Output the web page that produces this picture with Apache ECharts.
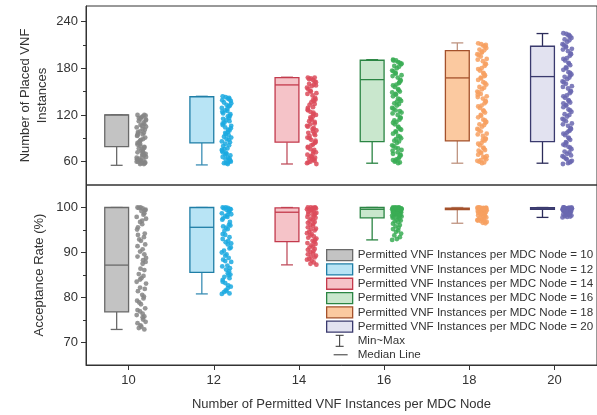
<!doctype html>
<html lang="en">
<head>
  <meta charset="utf-8">
  <title>VNF placement</title>
  <script src="https://cdn.jsdelivr.net/npm/echarts@6/dist/echarts.min.js"></script>
  <style>
    html, body { margin: 0; padding: 0; background: #fff; }
    #chart { width: 597px; height: 415px; }
  </style>
</head>
<body>
  <div id="chart"></div>
  <script type="text/javascript">
    // permitted VNF instances per MDC node
    const cats = [10, 12, 14, 16, 18, 20];
    const names = cats.map((c) => `Permitted VNF Instances per MDC Node = ${c}`);

    // box stats: [min, q1, median, q3, max]
    const placedStats = [
      [55.3, 79.3, 120, 120, 120],
      [55.8, 84, 143.5, 143.5, 144],
      [57, 85, 158.6, 168, 168.5],
      [58, 85.8, 165.4, 190.3, 191],
      [58, 86.6, 167.6, 202.7, 212.6],
      [58, 85.8, 169.3, 208.3, 224.6]
    ];
    const rateStats = [
      [72.9, 76.8, 87.2, 100, 100],
      [80.8, 85.6, 95.6, 100, 100],
      [87.25, 92.4, 98.95, 99.9, 100],
      [92.8, 97.7, 99.6, 100, 100],
      [96.5, 99.55, 99.75, 99.85, 100],
      [97.8, 99.6, 99.85, 99.95, 100]
    ];

    // raw runs, number of placed VNF instances
    const placed10 = [120,118,115,119,112,108,117,104,110,99,114,96,106,101,93,97,88,91,85,95,82,79,87,76,84,73,80,70,77,68,74,65,71,62,66,60,69,58,63,57,61,59,64,67,72,78,83,89,94,102,107,113,116,120,58,60,62,57,105,98];
    const placed12 = [144,141,143,138,136,140,133,129,131,126,135,122,128,119,124,116,113,121,110,118,107,112,104,101,109,98,95,103,92,100,89,86,94,83,91,80,77,85,74,81,71,68,76,65,72,62,69,59,66,57,63,60,58,64,70,75,88,97,106,115,125,132,139,142,58,61];
    const placed14 = [168,165,167,162,160,163,157,155,159,151,148,153,145,142,147,138,136,140,133,130,127,134,124,121,126,118,115,120,112,109,114,106,103,108,100,97,102,94,91,96,88,85,90,82,79,84,76,73,78,70,67,72,64,61,66,58,63,60,57,59,62,65,69,75,81,87,93,99,105,111,117,123,129,139,150,158,166,168];
    const placed16 = [191,188,190,185,183,187,180,177,182,174,171,176,168,165,170,162,159,164,156,153,158,150,147,152,144,141,146,138,135,140,132,129,134,126,123,128,120,117,122,114,111,116,108,105,110,102,99,104,96,93,98,90,87,92,84,81,86,78,75,80,72,69,74,66,63,68,60,58,62,59,61,64,70,77,89,101,113,125,137,149,161,173,186,190];
    const placed18 = [212,209,211,206,204,208,201,198,203,195,192,197,189,186,191,183,180,185,177,174,179,171,168,173,165,162,167,159,156,161,153,150,155,147,144,149,141,138,143,135,132,137,129,126,131,123,120,125,117,114,119,111,108,113,105,102,107,99,96,101,93,90,95,87,84,89,81,78,83,75,72,77,69,66,71,63,60,65,58,61,59,62,67,74,88,110,146,170,200,210];
    const placed20 = [225,222,224,219,217,221,214,211,216,208,205,210,202,199,204,196,193,198,190,187,192,184,181,186,178,175,180,172,169,174,166,163,168,160,157,162,154,151,156,148,145,150,142,139,144,136,133,138,130,127,132,124,121,126,118,115,120,112,109,114,106,103,108,100,97,102,94,91,96,88,85,90,82,79,84,76,73,78,70,67,72,64,61,66,58,60,57,59,63,68,81,99,135,171,207,223];

    // raw runs, acceptance rate (%)
    const rate10 = [100,99.8,100,99.5,99.9,98.7,99.2,97.9,98.4,96.8,97.5,95.6,96.3,94.2,95.1,93.4,92.6,91.8,92.9,90.7,91.4,89.6,90.2,88.3,89.1,87.5,86.4,87.9,85.2,86.1,84.3,83.5,84.8,82.2,83.1,81.4,80.6,81.9,79.3,80.2,78.5,77.6,78.9,76.4,77.2,75.8,76.9,75.1,74.3,75.6,73.8,74.6,73.2,72.9,73.5,76.1,79.8,84.0,88.8,93.9,97.1,99.4];
    const rate12 = [100,99.9,100,99.6,99.8,99.2,99.5,98.7,99.0,98.1,98.5,97.6,97.9,96.8,97.3,96.2,95.5,96.0,94.8,95.2,94.1,93.4,93.9,92.6,93.0,91.8,92.3,91.1,90.4,90.9,89.6,90.0,88.8,89.3,87.9,88.4,87.1,86.5,86.9,85.8,86.2,85.1,84.6,85.4,83.9,84.3,83.2,82.7,83.5,82.1,81.6,82.4,81.2,80.9,81.4,80.8,84.9,88.1,92.0,95.8,98.3,99.7];
    const rate14 = [100,99.9,100,99.8,99.7,99.9,99.4,99.6,99.1,99.3,98.8,99.0,98.4,98.6,97.9,98.2,97.5,97.7,97.0,97.3,96.6,96.8,96.1,96.4,95.6,95.9,95.1,95.3,94.6,94.9,94.1,94.3,93.6,93.8,93.1,93.3,92.6,92.8,92.1,92.3,91.6,91.9,91.1,91.3,90.6,90.8,90.1,90.3,89.6,89.8,89.1,89.3,88.6,88.9,88.2,88.4,87.8,87.5,87.3,98.5,99.5,100];
    const rate16 = [100,99.9,100,99.8,99.9,99.7,99.8,99.6,99.9,99.5,99.7,99.4,99.6,99.3,99.8,99.2,99.5,99.1,99.4,99.0,98.9,99.3,98.8,98.7,99.1,98.6,98.5,98.9,98.4,98.3,98.7,98.2,98.1,98.5,98.0,97.9,97.8,98.3,97.7,97.5,97.3,97.1,96.9,96.7,96.4,96.1,95.8,95.5,95.2,94.9,94.6,94.2,93.8,93.4,93.0,92.8,100,99.9,99.6,98.8];
    const rate18 = [100,99.9,99.8,99.9,99.7,99.8,99.6,99.9,99.5,99.7,99.4,99.6,99.3,99.8,99.2,99.5,99.1,99.0,98.9,99.3,98.8,98.6,98.4,98.7,98.2,98.0,98.5,97.8,97.6,98.1,97.4,97.2,97.5,97.0,96.8,97.3,96.6,96.5,97.1,96.9,99.6,99.9,100,99.7];
    const rate20 = [100,99.9,99.8,100,99.9,99.7,99.8,99.6,99.9,99.5,99.7,99.4,99.6,99.3,99.5,99.2,99.4,99.1,99.0,98.9,99.3,98.8,98.7,98.6,98.5,98.4,98.3,98.2,98.1,98.0,97.9,97.8,98.6,99.1,99.8,100];

    const placedPts = [placed10, placed12, placed14, placed16, placed18, placed20];
    const ratePts = [rate10, rate12, rate14, rate16, rate18, rate20];

    const styles = [
      { fill: '#c3c3c3', stroke: '#6a6a6a', whisker: '#6a6a6a', dot: '#858585' },
      { fill: '#b8e4f5', stroke: '#1f7ea6', whisker: '#3b8eb5', dot: '#1ba9e1' },
      { fill: '#f5c3c8', stroke: '#c33a4c', whisker: '#c0505e', dot: '#dc4b5b' },
      { fill: '#c9e7cd', stroke: '#2b8543', whisker: '#2b8543', dot: '#3aad55' },
      { fill: '#fbc9a0', stroke: '#a4512b', whisker: '#bf9480', dot: '#f7a060' },
      { fill: '#e2e2f0', stroke: '#3a3a6e', whisker: '#2c2c5a', dot: '#6a67b0' }
    ];

    // horizontal spread for the raw points, in x-axis units
    const JIT = [-0.09,0.03,-0.02,0.1,-0.06,0.07,0.0,-0.11,0.05,-0.03,0.11,-0.08,0.02,0.08,-0.1,0.06,-0.01,0.09,-0.05,0.03,-0.09,0.07,-0.03,0.04];
    const FONT = '"Liberation Sans", Arial, sans-serif';
    const TXT = '#333';

    const makeBox = (g, panel, stats) => {
      const st = styles[g];
      return {
        name: names[g],
        type: 'custom',
        xAxisIndex: panel,
        yAxisIndex: panel * 2,
        z: 3,
        data: [[cats[g], ...stats[g]]],
        renderItem: (params, api) => {
          const c = api.value(0);
          const cx = c - 0.28;
          const lo = api.coord([cx, api.value(1)]);
          const q1 = api.coord([c - 0.56, api.value(2)]);
          const med = api.coord([c, api.value(3)]);
          const q3 = api.coord([c, api.value(4)]);
          const hi = api.coord([cx, api.value(5)]);
          const capL = api.coord([cx - 0.14, 0])[0];
          const capR = api.coord([cx + 0.14, 0])[0];
          const wl = { stroke: st.whisker, lineWidth: 1.3 };
          return {
            type: 'group',
            children: [
              { type: 'line', shape: { x1: lo[0], y1: lo[1], x2: lo[0], y2: q1[1] }, style: wl },
              { type: 'line', shape: { x1: hi[0], y1: hi[1], x2: hi[0], y2: q3[1] }, style: wl },
              { type: 'line', shape: { x1: capL, y1: lo[1], x2: capR, y2: lo[1] }, style: wl },
              { type: 'line', shape: { x1: capL, y1: hi[1], x2: capR, y2: hi[1] }, style: wl },
              { type: 'rect', shape: { x: q1[0], y: q3[1], width: q3[0] - q1[0], height: q1[1] - q3[1] },
                style: { fill: st.fill, stroke: st.stroke, lineWidth: 1.3 } },
              { type: 'line', shape: { x1: q1[0], y1: med[1], x2: q3[0], y2: med[1] },
                style: { stroke: st.stroke, lineWidth: 1.3 } }
            ]
          };
        }
      };
    };

    const makeDots = (g, panel, pts) => ({
      name: `runs-${panel}-${cats[g]}`,
      type: 'scatter',
      xAxisIndex: panel,
      yAxisIndex: panel * 2,
      symbolSize: 4.8,
      z: 2,
      itemStyle: { color: styles[g].dot, opacity: 0.85 },
      data: pts[g].map((v, i) => [cats[g] + 0.3 + JIT[i % JIT.length], v])
    });

    const series = [];
    cats.forEach((c, g) => {
      series.push(makeBox(g, 0, placedStats));
      series.push(makeBox(g, 1, rateStats));
      series.push(makeDots(g, 0, placedPts));
      series.push(makeDots(g, 1, ratePts));
    });
    series.push({ name: 'Min~Max', type: 'custom', data: [], renderItem: () => null });
    series.push({ name: 'Median Line', type: 'custom', data: [], renderItem: () => null });

    const xAxisBase = (grid) => ({
      type: 'value', gridIndex: grid, min: 9, max: 21, interval: 1,
      splitLine: { show: false },
      axisLine: { show: grid === 1, lineStyle: { color: TXT } },
      axisTick: { show: grid === 1, customValues: cats, length: 5, lineStyle: { color: TXT } },
      axisLabel: { show: grid === 1, customValues: cats, margin: 9, fontSize: 13, color: TXT, fontFamily: FONT }
    });

    const yMajor = (grid, min, max, ticks, name, gap) => ({
      type: 'value', gridIndex: grid, min: min, max: max, position: 'left',
      name: name, nameLocation: 'middle', nameRotate: 90, nameGap: gap, nameMoveOverlap: false,
      nameTextStyle: { fontSize: 13, color: TXT, fontFamily: FONT, lineHeight: 17 },
      splitLine: { show: false },
      axisLine: { show: true, lineStyle: { color: TXT } },
      axisTick: { customValues: ticks, length: 5, lineStyle: { color: TXT } },
      axisLabel: { customValues: ticks, margin: 8, fontSize: 13, color: TXT, fontFamily: FONT }
    });

    const yMinor = (grid, min, max, ticks) => ({
      type: 'value', gridIndex: grid, min: min, max: max, position: 'left',
      splitLine: { show: false },
      axisLine: { show: false },
      axisTick: { customValues: ticks, length: 3, lineStyle: { color: TXT } },
      axisLabel: { show: false }
    });

    const legendData = names.map((n, g) => ({
      name: n, icon: 'rect',
      itemStyle: { color: styles[g].fill, borderColor: styles[g].stroke, borderWidth: 1.3 }
    }));
    legendData.push({
      name: 'Min~Max',
      icon: 'path://M0,0 M26,11 M9,0 L17,0 M13,0 L13,11 M9,11 L17,11',
      itemStyle: { color: 'rgba(0,0,0,0)', borderColor: TXT, borderWidth: 1 }
    });
    legendData.push({
      name: 'Median Line',
      icon: 'path://M0,0 M26,11 M7,5.5 L21,5.5',
      itemStyle: { color: 'rgba(0,0,0,0)', borderColor: TXT, borderWidth: 1 }
    });

    const option = {
      animation: false,
      backgroundColor: '#fff',
      grid: [
        { left: 86, right: -1, top: 6, height: 179, show: true, borderColor: TXT, borderWidth: 1 },
        { left: 86, right: -1, top: 185, height: 180, show: true, borderColor: TXT, borderWidth: 1 }
      ],
      xAxis: [
        xAxisBase(0),
        Object.assign(xAxisBase(1), {
          name: 'Number of Permitted VNF Instances per MDC Node',
          nameLocation: 'middle', nameGap: 33, nameMoveOverlap: false,
          nameTextStyle: { fontSize: 13, color: TXT, fontFamily: FONT }
        })
      ],
      yAxis: [
        yMajor(0, 30, 260, [60, 120, 180, 240], 'Number of Placed VNF\nInstances', 35),
        yMinor(0, 30, 260, [90, 150, 210]),
        yMajor(1, 65, 105, [70, 80, 90, 100], 'Acceptance Rate (%)', 38),
        yMinor(1, 65, 105, [75, 85, 95])
      ],
      legend: {
        orient: 'vertical', left: 321, top: 244,
        itemWidth: 26, itemHeight: 11, itemGap: 2,
        textStyle: { fontSize: 11.6, color: TXT, fontFamily: FONT },
        data: legendData
      },
      series: series
    };

    const chart = echarts.init(document.getElementById('chart'));
    chart.setOption(option);
  </script>
</body>
</html>
